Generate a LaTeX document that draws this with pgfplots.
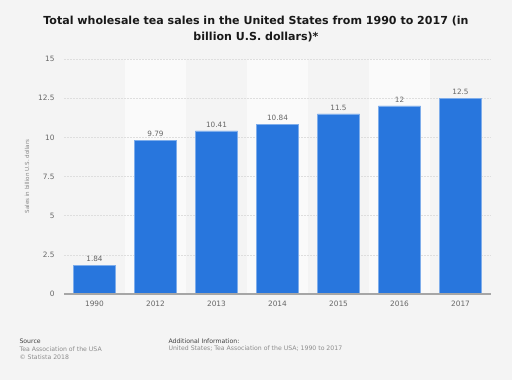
\documentclass[border=0pt]{standalone}
\usepackage{pgfplots}
\pgfplotsset{compat=1.18}
\usepackage{fontspec}
\setmainfont{DejaVu Sans}
\definecolor{bg}{HTML}{F4F4F4}
\definecolor{stripe}{HTML}{FAFAFA}
\definecolor{barblue}{HTML}{2876DD}
\definecolor{tickgray}{HTML}{666666}
\definecolor{gridgray}{HTML}{DEDEDE}
\begin{document}
\begin{tikzpicture}[x=1bp,y=1bp]
\fill[bg] (0,0) rectangle (512,380);
\fill[stripe] (125,86) rectangle (186,321);
\fill[stripe] (247,86) rectangle (308,321);
\fill[stripe] (369,86) rectangle (430,321);
\node[font=\bfseries\fontsize{11.1}{13}\selectfont, text=black!90, align=center] at (256,351) {Total wholesale tea sales in the United States from 1990 to 2017 (in\\[3.5bp]billion U.S. dollars)*};
\begin{axis}[
  at={(64bp,86bp)}, anchor=south west,
  scale only axis, width=427bp, height=235bp,
  xmin=-0.5, xmax=6.5, ymin=0, ymax=15,
  xtick={0,1,2,3,4,5,6},
  xticklabels={1990,2012,2013,2014,2015,2016,2017},
  ytick={0,2.5,5,7.5,10,12.5,15},
  yticklabels={0,2.5,5,7.5,10,12.5,15},
  major tick length=0pt,
  axis line style={draw=none},
  ymajorgrids, grid style={gridgray, dash pattern=on 2bp off 1bp, line width=0.4bp},
  tick label style={font=\fontsize{7.4}{8}\selectfont, text=tickgray},
  yticklabel style={xshift=-6bp},
  xticklabel style={yshift=-4bp},
  /pgf/number format/assume math mode=true,
  ylabel={Sales in billion U.S. dollars},
  ylabel style={font=\fontsize{5.6}{7}\selectfont, text=tickgray!80, yshift=2bp},
  ybar, bar width=0.69,
  nodes near coords,
  every node near coord/.append style={font=\fontsize{7.3}{8}\selectfont, text=tickgray},
]
\addplot[fill=barblue, draw=barblue!60!white, line width=0.6bp] coordinates {
  (0,1.84) (1,9.79) (2,10.41) (3,10.84) (4,11.5) (5,12) (6,12.5)
};
\draw[gray!70, line width=1.5bp] (axis cs:-0.5,0) -- (axis cs:6.5,0);
\end{axis}
\node[anchor=west, font=\fontsize{6.2}{7}\selectfont, text=black!75] at (16,39) {Source};
\node[anchor=west, font=\fontsize{6.2}{7}\selectfont, text=black!45] at (16,31) {Tea Association of the USA};
\node[anchor=west, font=\fontsize{6.2}{7}\selectfont, text=black!45] at (16,23) {\textcopyright{} Statista 2018};
\node[anchor=west, font=\fontsize{6.2}{7}\selectfont, text=black!75] at (165,39) {Additional Information:};
\node[anchor=west, font=\fontsize{6.2}{7}\selectfont, text=black!45] at (165,31) {United States; Tea Association of the USA; 1990 to 2017};
\end{tikzpicture}
\end{document}
